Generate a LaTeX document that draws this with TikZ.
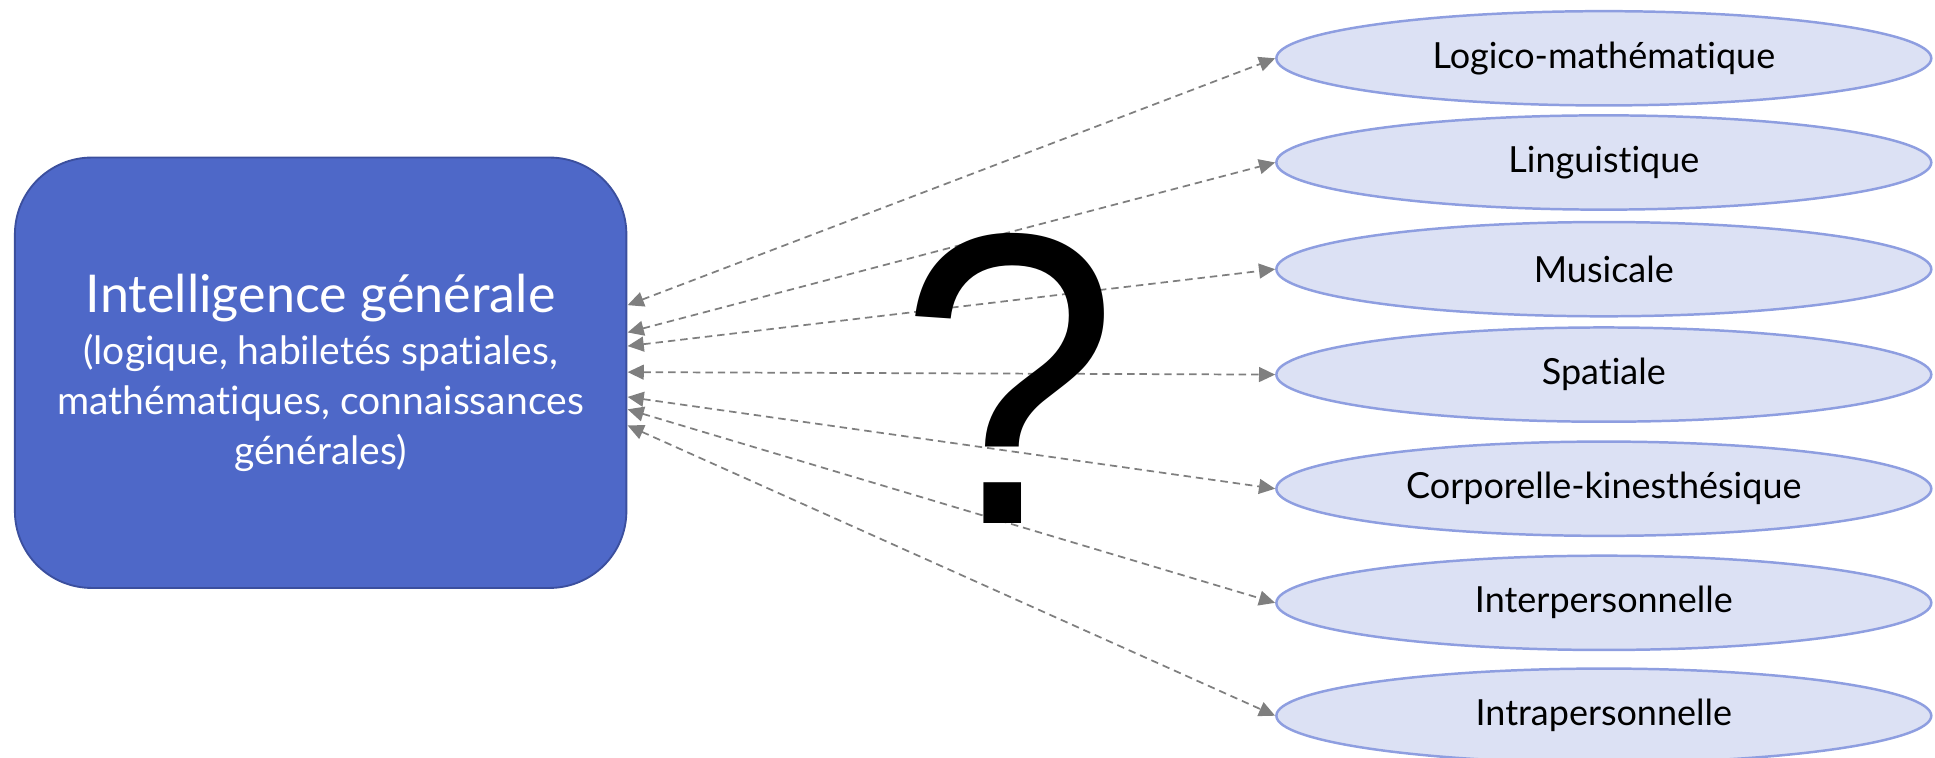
\documentclass[tikz,border=0pt]{standalone}
\usepackage{fontspec}
\setmainfont{Lato}[Ligatures={NoCommon}]
\newfontfamily\qfont{Liberation Sans}
\usetikzlibrary{shapes.geometric,arrows.meta}
\definecolor{boxfill}{HTML}{4E68C8}
\definecolor{boxline}{HTML}{3B4F9E}
\definecolor{ellfill}{HTML}{DCE1F4}
\definecolor{ellline}{HTML}{8E9EE0}
\definecolor{arrgray}{HTML}{7F7F7F}
\tikzset{
  genbox/.style={draw=boxline, line width=1.5pt, fill=boxfill, rounded corners=62pt,
    minimum width=493pt, minimum height=347pt, text=white, align=center,
    font=\fontsize{31.5}{40}\selectfont, inner sep=0pt},
  intel/.style={ellipse, draw=ellline, line width=2pt, fill=ellfill,
    minimum width=528pt, minimum height=76pt, inner sep=0pt,
    font=\fontsize{29}{34}\selectfont},
  link/.style={draw=arrgray, line width=1.4pt, dash pattern=on 6pt off 4pt,
    {Triangle[length=13pt,width=12pt]}-{Triangle[length=13pt,width=12pt]}}
}
\begin{document}
\begin{tikzpicture}[x=1pt,y=-1pt]
\useasboundingbox (0,0) rectangle (1560,610.3);
\node[genbox] (g) at (258.5,300.5) {{\fontsize{42}{48}\selectfont Intelligence générale}\\[2pt]
(logique, habiletés spatiales,\\ mathématiques, connaissances\\ générales)};
\node[intel] (e1) at (1293,47) {Logico-mathématique};
\node[intel] (e2) at (1293,131) {Linguistique};
\node[intel] (e3) at (1293,217) {Musicale};
\node[intel] (e4) at (1293,302) {Spatiale};
\node[intel] (e5) at (1293,394) {Corporelle-kinesthésique};
\node[intel] (e6) at (1293,486) {Interpersonnelle};
\node[intel] (e7) at (1293,577) {Intrapersonnelle};
\coordinate (b1) at (506,246);
\coordinate (b2) at (506,268);
\coordinate (b3) at (506,279);
\coordinate (b4) at (506,300);
\coordinate (b5) at (506,320);
\coordinate (b6) at (506,330);
\coordinate (b7) at (506,343);
\foreach \i in {1,...,7} {\draw[link] (b\i) -- (e\i.west);}
\node[font=\qfont\fontsize{335}{335}\selectfont, inner sep=0pt, xscale=0.95] (q) at (814,305) {?};
\end{tikzpicture}
\end{document}
